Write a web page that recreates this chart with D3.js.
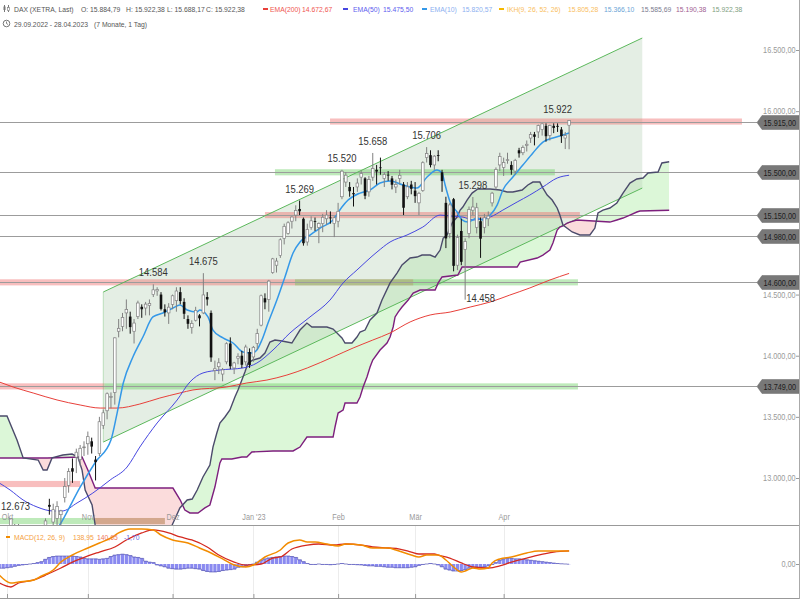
<!DOCTYPE html>
<html><head><meta charset="utf-8">
<script src="https://cdn.jsdelivr.net/npm/d3@7"></script>
<style>body{margin:0;background:#fff}svg{display:block}</style>
</head><body>
<svg id="c" width="800" height="600"></svg>
<script>
// ---------------- DATA ----------------
// trading-day index 0 = 29.09.2022 ... 148 = 28.04.2023
const opens = [12150,11990,12130,12380,12560,12560,12420,12250,12230,12240,12150,12500,12480,12780,12640,12670,12700,12840,12940,13080,13170,13150,13250,
13280,13300,13150,13200,13430,13550,13660,13700,14200,14240,14350,14320,14200,14320,14400,14390,14410,14500,14530,14500,14380,14350,
14420,14450,14520,14440,14300,14230,14290,14330,14350,14480,14350,13880,13910,13850,13950,14100,13900,13980,14000,13950,14030,
13990,14100,14250,14470,14460,14680,14740,14820,14960,15000,15100,15150,15200,15120,14930,15050,15100,15050,15080,15120,15130,15080,
15100,15300,15420,15380,15330,15380,15460,15450,15340,15460,15520,15540,15450,15480,15450,15380,15450,15400,15300,15400,
15350,15250,15350,15620,15640,15560,15640,15500,15250,15000,15280,14740,15020,14870,15000,15190,15050,15100,15050,15120,15250,15380,15560,
15540,15600,15560,15510,15680,15660,15720,15780,15810,15830,15850,15880,15800,15880,15880,15850,15780,15884.79];
const highs = [12177,12183,12250,12673,12620,12620,12460,12340,12300,12300,12370,12590,12670,12830,12790,12810,12740,13000,13080,13160,13240,13270,13300,
13380,13330,13180,13500,13560,13700,13700,14150,14300,14350,14460,14360,14300,14450,14420,14440,14460,14584,14560,14520,14420,14430,
14500,14560,14560,14470,14330,14290,14400,14340,14675,14520,14370,13960,13980,13900,14110,14150,13950,14020,14040,14090,14060,
14080,14220,14500,14510,14620,14800,14800,14960,15080,15100,15140,15230,15269,15130,15080,15140,15130,15090,15160,15190,15180,15140,
15250,15520,15500,15420,15380,15450,15515,15460,15470,15658,15560,15620,15500,15510,15470,15440,15520,15420,15420,15430,
15420,15340,15590,15706,15680,15640,15680,15520,15300,15250,15290,14990,15120,14960,15220,15298,15250,15130,15160,15180,15340,15540,15660,
15620,15660,15590,15610,15700,15720,15760,15830,15830,15890,15900,15900,15890,15900,15900,15870,15830,15922.38];
const lows = [11862,11880,12010,12360,12430,12440,12230,12190,12110,12150,11869,12400,12460,12700,12600,12600,12500,12800,12880,12960,13040,13100,13180,
13190,13200,12980,13180,13400,13480,13570,13600,14150,14200,14220,14180,14100,14300,14310,14330,14330,14480,14490,14370,14320,14260,
14380,14360,14420,14300,14220,14180,14280,14240,14340,14410,13950,13800,13850,13791,13930,13890,13850,13930,13900,13920,13900,
13950,14050,14240,14380,14360,14670,14680,14800,14910,14990,15040,15100,15150,14900,14900,15030,15020,14920,15010,15070,15080,14970,
15050,15280,15380,15300,15220,15340,15400,15280,15300,15430,15400,15480,15380,15430,15360,15330,15400,15150,15280,15320,
15250,15150,15340,15580,15540,15520,15590,15340,14880,14960,14690,14700,14740,14458,14960,15150,15000,14800,15000,15060,15220,15360,15510,
15470,15570,15480,15480,15620,15640,15670,15740,15720,15780,15800,15750,15760,15820,15830,15740,15690,15688.17];
const closes = [11976,12114,12209,12670,12517,12471,12273,12272,12219,12172,12355,12438,12649,12765,12741,12767,12731,12931,13053,13052,13211,13243,13254,
13338,13257,13130,13460,13533,13689,13666,14146,14224,14313,14378,14234,14267,14431,14380,14422,14428,14539,14541,14383,14355,14397,
14490,14529,14447,14343,14261,14264,14371,14306,14497,14460,13986,13893,13942,13884,14098,13914,13941,13995,13926,14071,13924,
14069,14181,14490,14436,14610,14792,14774,14948,15058,15087,15134,15187,15181,14920,15033,15103,15094,15082,15132,15150,15126,15128,
15181,15509,15476,15345,15320,15412,15490,15308,15440,15530,15506,15534,15482,15477,15398,15400,15475,15210,15381,15365,
15305,15328,15578,15654,15559,15632,15633,15428,14959,15233,14735,14967,14768,14933,15195,15216,15210,14957,15128,15142,15329,15523,15629,
15581,15603,15520,15598,15655,15703,15729,15808,15790,15882,15896,15795,15882,15863,15872,15796,15800,15922.38];

// indicator lines as [day index, value]
const ema200 = [[0,13785],[3.6,13744],[8.8,13695],[15,13638],[21,13597],[26.2,13572],[30.6,13572],[36.5,13605],[41.7,13654],[46.9,13695],[50.3,13720],[59,13744],[64.3,13777],[69.5,13801],[74.7,13842],[80,13900],[86.7,13990],[91.9,14063],[97,14128],[101.5,14186],[106.7,14276],[111.9,14333],[117.1,14357],[122.3,14398],[127.5,14439],[132.6,14496],[137.8,14554],[143,14619],[148,14673]];
const ema50 = [[0,12959],[2.8,12902],[6.2,12820],[9.8,12763],[14,12730],[16.3,12730],[20.2,12796],[24.3,12877],[28.8,12984],[33.2,13090],[36.5,13253],[41,13450],[46.2,13638],[49.5,13785],[52.9,13859],[57.3,13883],[63.3,13900],[66.9,13940],[71.1,14047],[75.5,14186],[80.7,14317],[85.9,14455],[89.3,14595],[92.9,14701],[98.1,14848],[101.5,14930],[105.9,14987],[110,15052],[114.5,15150],[117.1,15142],[120.4,15134],[123,15110],[127.5,15134],[130.8,15191],[134.5,15257],[137.8,15314],[141.2,15380],[144.9,15453],[148,15476]];
const ema10 = [[12.5,12470],[16,12632],[21,12926],[25,13131],[29,13311],[30.6,13531],[32.2,13777],[34.7,13989],[37.3,14153],[39.9,14317],[42.5,14349],[45.1,14390],[46.9,14415],[48.8,14374],[51.3,14357],[52.1,14374],[54.2,14317],[55.5,14210],[58.1,14145],[60.7,14104],[63.3,14030],[65.6,14022],[66.9,14047],[68.2,14128],[69.8,14267],[72.1,14455],[74.2,14644],[76.3,14840],[78.1,14930],[80.7,14987],[83.3,15044],[86.7,15110],[89,15216],[90.6,15273],[93.7,15330],[96.3,15355],[98.9,15412],[101.5,15429],[104.9,15396],[108.5,15371],[111.1,15461],[113.7,15518],[115,15494],[115.8,15396],[117.1,15257],[118.9,15175],[120.2,15110],[121.7,15093],[124.1,15126],[125.6,15110],[127.5,15150],[129.3,15232],[130.8,15355],[133.4,15461],[136,15559],[138.6,15658],[141.2,15747],[143.8,15780],[145.6,15797],[148,15821]];
const spanA = [[0,13507],[2,13507],[4.6,13311],[6.2,13164],[10.1,13147],[11.4,13065],[12.4,13065],[13.7,13164],[16.5,13188],[18.9,13196],[20.4,13172],[21.5,13065],[22.3,12902],[24.1,12779],[24.9,12616],[27,12450],[33,12300],[40,12350],[43,12480],[44.9,12616],[46.9,12755],[48.8,12820],[50.1,12828],[51.4,12902],[52.9,13008],[54.7,13106],[55.5,13253],[56.5,13368],[57.3,13450],[58.6,13499],[59.9,13556],[61.2,13662],[62,13720],[63,13801],[63.8,13867],[64.6,13940],[65.9,13965],[67.7,13981],[69,14022],[70.3,14112],[71.6,14128],[73.4,14120],[76,14104],[78.1,14210],[79.9,14267],[81.2,14235],[85.1,14235],[86.7,14218],[89,14145],[89.8,14104],[91.6,14104],[92.9,14153],[93.7,14194],[95,14210],[96.3,14292],[98.1,14349],[99.4,14455],[101.5,14595],[103.3,14676],[104.6,14742],[106.7,14799],[108.5,14807],[109.8,14823],[111.9,14823],[113.2,14807],[114.5,14864],[115.3,14962],[116.3,14987],[117.6,15085],[118.9,15134],[119.7,15191],[120.4,15216],[121.5,15273],[122.8,15330],[124.3,15363],[127.5,15363],[130,15355],[131.9,15339],[133.4,15339],[135.8,15355],[137.3,15396],[138.6,15420],[140.4,15420],[141.2,15371],[142.3,15314],[143.6,15273],[144.9,15208],[145.6,15150],[146.4,15069],[148.8,15012],[150.8,14987],[153.4,14987],[154.7,15044],[155.5,15167],[156.8,15191],[158.6,15208],[160.4,15249],[162,15330],[163.8,15412],[165.6,15445],[167.2,15453],[168.5,15494],[171.1,15502],[172.1,15576],[174,15586]];
const spanB = [[0,13164],[12.4,13164],[21.5,13172],[23,13065],[24.9,12918],[45.1,12918],[47,12820],[48.2,12738],[49.5,12714],[51.6,12714],[53.4,12755],[54.7,12779],[56,12926],[57.3,13123],[57.8,13155],[60.4,13155],[63,13172],[64.3,13172],[65.6,13213],[71.1,13221],[76.3,13221],[78.1,13253],[79.9,13335],[86.7,13335],[87.2,13417],[88,13531],[89.3,13556],[89.8,13613],[92.9,13613],[93.7,13662],[94.5,13744],[95.5,13826],[96.3,13908],[97,13965],[98.9,14047],[100.7,14104],[101.5,14153],[102.3,14235],[102.8,14317],[103.6,14357],[104.6,14398],[106.2,14455],[107.5,14513],[109.3,14537],[113.2,14537],[114,14595],[115,14644],[119.1,14660],[120.2,14725],[134.5,14725],[135.3,14766],[139.7,14799],[141.2,14823],[143,14864],[143.8,14922],[144.9,15028],[145.6,15052],[146.4,15061],[147.5,15085],[148.2,15093],[150,15110],[158.6,15093],[160.4,15110],[162,15126],[163.8,15150],[165.6,15175],[166.4,15183],[174,15190]];

const channelUpper = [[27,14521],[167,16598]];
const channelLower = [[27,13294],[167,15371]];

const levels = [15915,15500,15150,14980,14600,13749];
const zoneValues = [15915,15500,15150,14600,14600,13749,13749,12951,12648,12648];
const zoneFrom   = [85.9,71.6,69,0,76.8,0,27.3,0,0,24.9];
const zoneTo     = [192.9,144.3,150.8,107.5,150.3,27.3,150.3,21,43,43];
const zoneKind   = ["r","g","r","r","g","r","g","r","g","r"];

const highLabelIdx = [3,40,53,78,89,97,111,123,148];
const lowLabelIdx = [121];

const yTicks = [13000,13500,14000,14500,16000,16500];
const monthIdx = [2,23,45,66,88,108,131];
const monthNames = ["Okt","Nov","Dez","Jan '23","Feb","Mär","Apr"];

const macdLine = [[0,-118],[3,-203],[5,-193],[9,-171],[11,-128],[14,-64],[16,21],[19,96],[23,171],[26,225],[29,278],[31,332],[34,374],[37,374],[40,364],[42,310],[45,257],[49,225],[52,171],[55,118],[58,54],[61,-11],[64,-32],[66,-11],[69,75],[73,150],[75,225],[78,257],[80,235],[82,235],[85,214],[88,193],[90,214],[94,203],[97,171],[101,171],[103,150],[107,96],[109,75],[111,96],[114,96],[116,43],[118,-32],[120,-86],[121,-75],[123,-43],[125,-54],[127,-43],[128,11],[130,54],[133,75],[137,118],[140,139],[143,139],[145,139],[148,139]];
const signalLine = [[0,-203],[3,-246],[5,-203],[9,-171],[12,-118],[16,-43],[19,21],[23,86],[26,128],[30,182],[33,257],[37,332],[40,364],[44,332],[47,289],[50,257],[54,182],[57,96],[61,21],[64,-11],[68,0],[71,64],[73,75],[76,160],[80,203],[83,214],[87,203],[90,214],[94,203],[97,182],[101,171],[104,160],[107,128],[109,107],[113,107],[114,96],[117,64],[120,11],[122,-21],[123,-32],[127,-43],[130,-21],[133,21],[137,64],[140,96],[144,128],[148,141]];
const histogram = [-45,-45,-40,-35,-25,-15,-10,-5,0,5,15,25,50,70,80,85,85,85,85,85,80,75,60,55,55,55,50,55,60,80,
95,100,105,100,90,75,70,60,30,20,15,-10,-20,-30,-45,-50,-55,-55,-50,-45,-45,-50,-55,-70,-80,-85,-85,-80,-70,-65,
-60,-55,-35,-30,-25,-10,0,20,40,55,65,70,75,80,85,85,80,70,45,25,5,-5,-5,0,-5,-5,-8,-5,0,5,
0,-5,-5,-8,-10,-15,-20,-20,-25,-25,-30,-35,-35,-40,-40,-40,-40,-35,-30,-15,-5,0,5,0,-10,-30,-55,-65,-75,-75,
-70,-60,-45,-40,-35,-35,-30,-20,-5,15,40,55,60,60,55,55,50,45,40,35,30,25,20,15,10,5,2,0,-2];

const ohlcLast = [15884.79,15922.38,15688.17,15922.38];
const emaLast = [14672.67,15475.50,15820.57];
const ikhLast = [15805.28,15366.10,15585.69,15190.38,15922.38];
const macdLast = [138.95,140.65,-1.70];

// ---------------- DRAWING ----------------
const de = d3.formatLocale({decimal:",",thousands:".",grouping:[3],currency:["","€"],minus:"-"});
const f2 = de.format(",.2f"), f0 = de.format(",.0f");
const FONT = '"Liberation Sans", Arial, sans-serif';
const SX = 0.86;
const svg = d3.select('#c');

function txt(g, xx, yy, s, o={}) {
  const sx = o.sx || SX;
  return g.append('text')
    .attr('transform', `translate(${xx},${yy}) scale(${sx},1)`)
    .attr('font-family', FONT).attr('font-size', o.size||8.5)
    .attr('fill', o.fill||'#555').attr('text-anchor', o.anchor||'start').text(s);
}
const HS = {size:8, sx:0.85};
function htxt(g, xx, yy, s, fill) { return txt(g, xx, yy, s, Object.assign({fill: fill||'#555'}, HS)); }

const x = d3.scaleLinear().domain([0,174]).range([-0.7, -0.7+174*3.85]);
const y = d3.scaleLinear().domain([13000,16500]).range([478,50]);
const ym = d3.scaleLinear().domain([-400,400]).range([601.4,526.6]);

const defs = svg.append('defs');
defs.append('clipPath').attr('id','clipMain').append('rect').attr('x',0).attr('y',0).attr('width',799).attr('height',525);
defs.append('clipPath').attr('id','clipMacd').append('rect').attr('x',0).attr('y',525).attr('width',799).attr('height',73);

const main = svg.append('g').attr('clip-path','url(#clipMain)');
const pl = d3.line().x(d=>x(d[0])).y(d=>y(d[1]));

// Ichimoku cloud
const areaBelow = d3.area().x(d=>x(d[0])).y0(d=>y(d[1])).y1(900);
const areaAbove = d3.area().x(d=>x(d[0])).y0(-300).y1(d=>y(d[1]));
defs.append('clipPath').attr('id','belowA').append('path').attr('d', areaBelow(spanA));
defs.append('clipPath').attr('id','aboveA').append('path').attr('d', areaAbove(spanA));
main.append('path').attr('d', areaAbove(spanB)).attr('clip-path','url(#belowA)').attr('fill','#dcf7d8');
main.append('path').attr('d', areaBelow(spanB)).attr('clip-path','url(#aboveA)').attr('fill','#fbdcdc');

// trend channel fill
const chPoly = channelUpper.concat(channelLower.slice().reverse());
main.append('path').attr('d', pl(chPoly)+'Z').attr('fill','rgba(190,215,190,0.42)');

// zones
zoneValues.forEach((v,i)=>{
  main.append('rect').attr('x', x(zoneFrom[i])).attr('width', x(zoneTo[i])-x(zoneFrom[i]))
    .attr('y', y(v+25)).attr('height', y(v-25)-y(v+25))
    .attr('fill', zoneKind[i]==='r' ? 'rgba(240,110,110,0.45)' : 'rgba(100,205,90,0.42)');
});

// horizontal levels
levels.forEach(v=>{
  main.append('line').attr('x1',0).attr('x2',757).attr('y1',Math.round(y(v))+0.5).attr('y2',Math.round(y(v))+0.5)
    .attr('stroke','#9c9c9c').attr('stroke-width',1);
});

// channel lines
[channelUpper, channelLower].forEach(l=>{
  main.append('path').attr('d', pl(l)).attr('fill','none').attr('stroke','#5cb85c').attr('stroke-width',1);
});
main.append('line').attr('x1',x(channelUpper[0][0])).attr('x2',x(channelLower[0][0]))
  .attr('y1',y(channelUpper[0][1])).attr('y2',y(channelLower[0][1])).attr('stroke','rgba(92,184,92,0.35)');

// cloud lines
main.append('path').attr('d', pl(spanB)).attr('fill','none').attr('stroke','#7d1f7d').attr('stroke-width',1.4);
main.append('path').attr('d', pl(spanA)).attr('fill','none').attr('stroke','#4b4b6b').attr('stroke-width',1.4);

// EMAs
const sl = d3.line().x(d=>x(d[0])).y(d=>y(d[1])).curve(d3.curveMonotoneX);
main.append('path').attr('d', sl(ema200)).attr('fill','none').attr('stroke','#e8403a').attr('stroke-width',1);
main.append('path').attr('d', sl(ema50)).attr('fill','none').attr('stroke','#4646e0').attr('stroke-width',1);
main.append('path').attr('d', sl(ema10)).attr('fill','none').attr('stroke','#3498e8').attr('stroke-width',1.5);

// candles
const cg = main.append('g');
closes.forEach((c,i)=>{
  const o = opens[i], up = c >= o;
  const col = up ? '#808080' : '#111';
  cg.append('line').attr('x1',x(i)).attr('x2',x(i)).attr('y1',y(highs[i])).attr('y2',y(lows[i]))
    .attr('stroke',col).attr('stroke-width',1);
  const top = y(Math.max(o,c)), bot = y(Math.min(o,c));
  cg.append('rect').attr('x',x(i)-1.3).attr('width',2.6).attr('y',top).attr('height',Math.max(0.8,bot-top))
    .attr('fill', up ? '#fff' : '#111').attr('stroke', up ? '#808080' : 'none').attr('stroke-width',0.7);
});

// high / low labels
const xMinL = 1, xMaxL = x(closes.length-1)+3;
highLabelIdx.forEach(i=>{
  const t = txt(main, x(i), y(highs[i])-8, f0(highs[i]), {size:11, fill:'#333', anchor:'middle'});
  const w = t.node().getComputedTextLength()*SX;
  let cx = Math.max(xMinL + w/2, Math.min(xMaxL - w/2, x(i)));
  t.attr('transform', `translate(${cx},${y(highs[i])-8}) scale(${SX},1)`);
});
lowLabelIdx.forEach(i=>{
  txt(main, x(i)+1, y(lows[i])+2.5, f0(lows[i]), {size:11, fill:'#333'});
});

// month labels
const xa = svg.append('g').attr('transform','translate(0,511)')
  .call(d3.axisBottom(x).tickValues(monthIdx).tickSize(0).tickPadding(3).tickFormat((d,i)=>monthNames[i]));
xa.select('.domain').remove();
xa.selectAll('text').attr('font-family',FONT).attr('font-size',8.5).attr('fill','#9a9a9a')
  .attr('transform',`scale(${SX},1)`);

// y axis
const ya = svg.append('g').attr('transform','translate(799,0)')
  .call(d3.axisLeft(y).tickValues(yTicks).tickSize(3).tickPadding(1).tickFormat(f2));
ya.select('.domain').remove();
ya.selectAll('line').attr('stroke','#999');
ya.selectAll('text').attr('font-family',FONT).attr('font-size',8.5).attr('fill','#9a9a9a')
  .attr('transform',`scale(${SX},1)`);

// level tags
levels.forEach(v=>{
  const yc = Math.round(y(v))+0.5;
  svg.append('path').attr('d',`M757,${yc} L762,${yc-7} L799,${yc-7} L799,${yc+7} L762,${yc+7} Z`)
    .attr('fill','#787878').attr('stroke','#6a6a6a').attr('stroke-width',0.5);
  txt(svg, 796, yc+3, f2(v), {size:8.5, fill:'#1c1c1c', anchor:'end'});
});

// panel frame
svg.append('line').attr('x1',0).attr('x2',800).attr('y1',525.5).attr('y2',525.5).attr('stroke','#999');
svg.append('line').attr('x1',0).attr('x2',800).attr('y1',598.5).attr('y2',598.5).attr('stroke','#999');
svg.append('line').attr('x1',799.5).attr('x2',799.5).attr('y1',0).attr('y2',599).attr('stroke','#aaa');

// MACD panel
const mg = svg.append('g').attr('clip-path','url(#clipMacd)');
monthIdx.forEach(i=>{
  mg.append('line').attr('x1',Math.round(x(i))+0.5).attr('x2',Math.round(x(i))+0.5).attr('y1',526).attr('y2',598)
    .attr('stroke','#ececec');
});
histogram.forEach((h,i)=>{
  mg.append('rect').attr('x',x(i)-1.6).attr('width',3.2)
    .attr('y', ym(Math.max(0,h))).attr('height', Math.abs(ym(h)-ym(0)))
    .attr('fill','#8a8af0');
});
mg.append('path').attr('d', d3.line().x((d,i)=>x(i)).y(d=>ym(d)).curve(d3.curveStep)(histogram))
  .attr('fill','none').attr('stroke','#3a3aa8').attr('stroke-width',0.6);
const mls = d3.line().x(d=>x(d[0])).y(d=>ym(d[1])).curve(d3.curveMonotoneX);
mg.append('path').attr('d', mls(signalLine)).attr('fill','none').attr('stroke','#d42a20').attr('stroke-width',1.3);
mg.append('path').attr('d', mls(macdLine)).attr('fill','none').attr('stroke','#f28c00').attr('stroke-width',1.5);

// bottom ticks
const xb = svg.append('g').attr('transform','translate(0,598)')
  .call(d3.axisTop(x).tickValues(monthIdx).tickSize(4).tickFormat(''));
xb.select('.domain').remove();
xb.selectAll('line').attr('stroke','#999');

// MACD axis label
const ma = svg.append('g').attr('transform','translate(799,0)')
  .call(d3.axisLeft(ym).tickValues([0]).tickSize(3).tickPadding(1).tickFormat(f2));
ma.select('.domain').remove();
ma.selectAll('line').attr('stroke','#999');
ma.selectAll('text').attr('font-family',FONT).attr('font-size',8.5).attr('fill','#9a9a9a').attr('transform',`scale(${SX},1)`);

// MACD legend
svg.append('rect').attr('x',6).attr('y',536).attr('width',4).attr('height',2).attr('fill','#f28c00');
htxt(svg, 14, 540, 'MACD(12, 26, 9)', '#f5a040');
htxt(svg, 73, 540, f2(macdLast[0]), '#f5a040');
htxt(svg, 97, 540, f2(macdLast[1]), '#ee7a5a');
htxt(svg, 124, 540, f2(macdLast[2]), '#6a6ae0');

// header
const hg = svg.append('g');
hg.append('line').attr('x1',4.5).attr('x2',4.5).attr('y1',5).attr('y2',12).attr('stroke','#777');
hg.append('rect').attr('x',3.5).attr('y',6.5).attr('width',2).attr('height',3.5).attr('fill','#777');
hg.append('line').attr('x1',8.5).attr('x2',8.5).attr('y1',5).attr('y2',12).attr('stroke','#777');
hg.append('rect').attr('x',7.5).attr('y',7.5).attr('width',2).attr('height',3).attr('fill','#fff').attr('stroke','#777').attr('stroke-width',0.6);
htxt(hg, 14, 12, 'DAX (XETRA, Last)');
htxt(hg, 81, 12, 'O: ' + f2(ohlcLast[0]));
htxt(hg, 126, 12, 'H: ' + f2(ohlcLast[1]));
htxt(hg, 167, 12, 'L: ' + f2(ohlcLast[2]));
htxt(hg, 206, 12, 'C: ' + f2(ohlcLast[3]));
hg.append('rect').attr('x',263).attr('y',8).attr('width',5).attr('height',2).attr('fill','#e8403a');
htxt(hg, 270, 12, 'EMA(200)', '#ef5550');
htxt(hg, 302, 12, f2(emaLast[0]), '#ef5550');
hg.append('rect').attr('x',343).attr('y',8).attr('width',5).attr('height',2).attr('fill','#4646e0');
htxt(hg, 353, 12, 'EMA(50)', '#6060ee');
htxt(hg, 383, 12, f2(emaLast[1]), '#6060ee');
hg.append('rect').attr('x',422).attr('y',8).attr('width',5).attr('height',2).attr('fill','#3498e8');
htxt(hg, 430, 12, 'EMA(10)', '#8cb0f0');
htxt(hg, 462, 12, f2(emaLast[2]), '#8cb0f0');
hg.append('rect').attr('x',499).attr('y',8).attr('width',5).attr('height',2).attr('fill','#f5b800');
htxt(hg, 507, 12, 'IKH(9, 26, 52, 26)', '#f9be5e');
htxt(hg, 568, 12, f2(ikhLast[0]), '#f9be5e');
htxt(hg, 604, 12, f2(ikhLast[1]), '#6aa4d6');
htxt(hg, 641, 12, f2(ikhLast[2]), '#7a7a8e');
htxt(hg, 676, 12, f2(ikhLast[3]), '#a06090');
htxt(hg, 712, 12, f2(ikhLast[4]), '#80a080');
hg.append('circle').attr('cx',6.5).attr('cy',23.5).attr('r',3.3).attr('fill','none').attr('stroke','#666').attr('stroke-width',0.9);
hg.append('path').attr('d','M6.5,21.5 L6.5,23.5 L8,24.5').attr('fill','none').attr('stroke','#666').attr('stroke-width',0.8);
htxt(hg, 14, 26.5, '29.09.2022 - 28.04.2023');
htxt(hg, 94, 26.5, '(7 Monate, 1 Tag)');
</script>
</body></html>
